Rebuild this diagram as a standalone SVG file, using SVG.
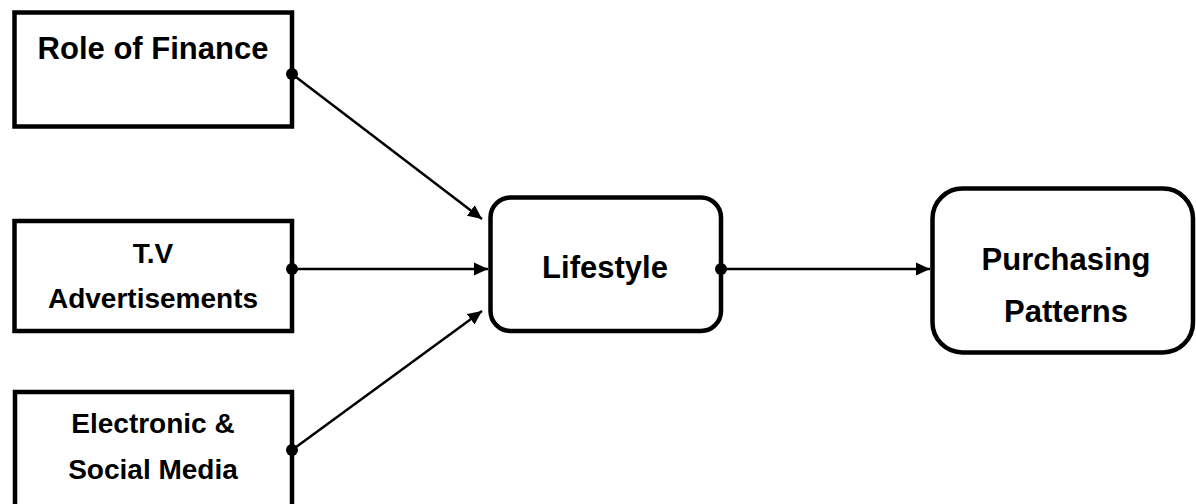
<svg xmlns="http://www.w3.org/2000/svg" width="1196" height="504" viewBox="0 0 1196 504">
  <style>
    .box { fill: #ffffff; stroke: #000000; stroke-width: 4.5; }
    .lbl { font-family: "Liberation Sans", Arial, sans-serif; font-weight: bold; fill: #000000; text-anchor: middle; }
    .big { font-size: 31px; }
    .sm { font-size: 28px; }
    .conn { stroke: #000000; stroke-width: 2.5; fill: none; marker-end: url(#arrow); }
    .dot { fill: #000000; }
  </style>
  <defs>
    <marker id="arrow" markerUnits="userSpaceOnUse" markerWidth="15" markerHeight="14" refX="14" refY="7" orient="auto">
      <path d="M0,0.5 L14,7 L0,13.5 z" fill="#000000"/>
    </marker>
  </defs>
  <rect x="0" y="0" width="1196" height="504" fill="#ffffff"/>

  <g id="role-of-finance">
    <rect class="box" x="14.5" y="12.5" width="277.5" height="114"/>
    <text class="lbl big" x="153" y="59">Role of Finance</text>
  </g>

  <g id="tv-advertisements">
    <rect class="box" x="14.5" y="221" width="277.5" height="110"/>
    <text class="lbl sm" x="153" y="263">T.V</text>
    <text class="lbl sm" x="153" y="308">Advertisements</text>
  </g>

  <g id="electronic-social-media">
    <rect class="box" x="15" y="392" width="277" height="130"/>
    <text class="lbl sm" x="153" y="433">Electronic &amp;</text>
    <text class="lbl sm" x="153" y="479">Social Media</text>
  </g>

  <g id="lifestyle">
    <rect class="box" x="490.5" y="197.5" width="230.5" height="133.5" rx="20" ry="20"/>
    <text class="lbl big" x="605" y="278">Lifestyle</text>
  </g>

  <g id="purchasing-patterns">
    <rect class="box" x="932.5" y="188.5" width="260.5" height="164" rx="30" ry="30"/>
    <text class="lbl big" x="1066" y="270">Purchasing</text>
    <text class="lbl big" x="1066" y="322">Patterns</text>
  </g>

  <g id="connectors">
    <line class="conn" x1="292" y1="74" x2="482" y2="219"/>
    <line class="conn" x1="292" y1="269" x2="488" y2="269"/>
    <line class="conn" x1="292" y1="450" x2="482" y2="311"/>
    <line class="conn" x1="721" y1="269" x2="930" y2="269"/>
    <circle class="dot" cx="292" cy="74" r="6"/>
    <circle class="dot" cx="292" cy="269" r="6"/>
    <circle class="dot" cx="292" cy="450" r="6"/>
    <circle class="dot" cx="721" cy="269" r="6"/>
  </g>
</svg>
